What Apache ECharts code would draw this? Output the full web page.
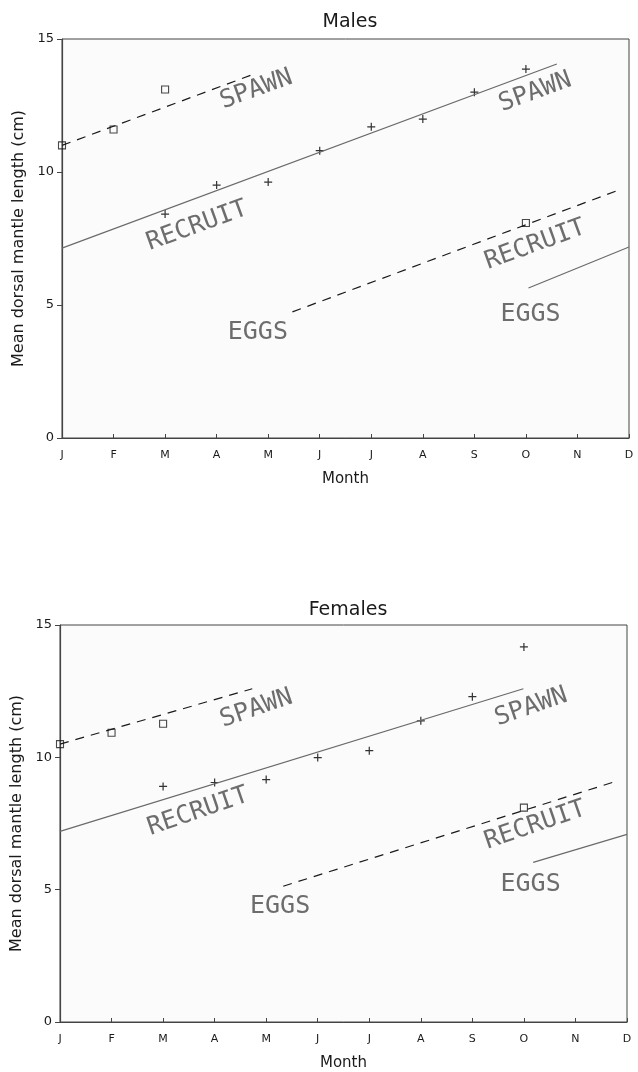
<!DOCTYPE html>
<html>
<head>
<meta charset="utf-8">
<title>Mean dorsal mantle length by month</title>
<script src="https://cdn.jsdelivr.net/npm/echarts@6/dist/echarts.min.js"></script>
<style>
  html, body { margin: 0; padding: 0; background: #fff; }
  #chart { width: 638px; height: 1072px; }
</style>
</head>
<body>
<div id="chart"></div>
<script>
// Month tick labels (x = 0 .. 11)
const monthLabels = ['J', 'F', 'M', 'A', 'M', 'J', 'J', 'A', 'S', 'O', 'N', 'D'];
const yTicks = [0, 5, 10, 15];

// ---- Males ----
// fitted growth lines, [month, cm]
const maleSpawnFit   = [[0, 11.0], [3.75, 13.7]];
const maleRecruitFit = [[0, 7.14], [9.6, 14.06]];
const maleRecruit2Fit = [[4.47, 4.74], [10.8, 9.32]];
const maleEggsFit    = [[9.05, 5.64], [11, 7.18]];
// monthly means
const maleSquares = [[0, 11.0], [1, 11.6], [2, 13.1], [9, 8.08]];
const maleCrosses = [[2, 8.42], [3, 9.51], [4, 9.62], [5, 10.8], [6, 11.7], [7, 11.99], [8, 13.0], [9, 13.87]];

// ---- Females ----
const femSpawnFit   = [[0, 10.5], [3.73, 12.59]];
const femRecruitFit = [[0, 7.2], [8.99, 12.59]];
const femRecruit2Fit = [[4.33, 5.13], [10.83, 9.12]];
const femEggsFit    = [[9.18, 6.03], [11, 7.09]];
const femSquares = [[0, 10.5], [1, 10.93], [2, 11.27], [9, 8.1]];
const femCrosses = [[2, 8.9], [3, 9.05], [4, 9.16], [5, 9.99], [6, 10.25], [7, 11.38], [8, 12.29], [9, 14.17]];

// Stage annotations placed along the fitted lines
const maleNotes = [
  { text: 'SPAWN',   at: [3.77, 13.1], rot: 20 },
  { text: 'SPAWN',   at: [9.18, 13.0], rot: 20 },
  { text: 'RECRUIT', at: [2.62, 7.97], rot: 20 },
  { text: 'RECRUIT', at: [9.18, 7.26], rot: 20 },
  { text: 'EGGS',    at: [3.80, 3.98], rot: 0 },
  { text: 'EGGS',    at: [9.09, 4.66], rot: 0 }
];
const femNotes = [
  { text: 'SPAWN',   at: [3.81, 11.84], rot: 19 },
  { text: 'SPAWN',   at: [9.14, 11.9], rot: 19 },
  { text: 'RECRUIT', at: [2.68, 7.95], rot: 19 },
  { text: 'RECRUIT', at: [9.22, 7.43], rot: 19 },
  { text: 'EGGS',    at: [4.27, 4.37], rot: 0 },
  { text: 'EGGS',    at: [9.13, 5.2], rot: 0 }
];

const ink = '#1a1a1a';
const grayInk = '#6a6a6a';
const axisFont = 'DejaVu Sans';
const stageFont = 'DejaVu Sans Mono';

function xAxisFor(gridIndex) {
  return {
    type: 'value', gridIndex, min: 0, max: 11, interval: 1,
    name: 'Month', nameLocation: 'middle', nameGap: 34,
    nameTextStyle: { fontFamily: axisFont, fontSize: 15, color: ink },
    axisLine: { show: true, lineStyle: { color: '#444', width: 1.2 } },
    axisTick: { show: true, inside: true, length: 4, lineStyle: { color: '#444' } },
    axisLabel: { fontFamily: axisFont, fontSize: 11, color: ink, margin: 12,
                 formatter: v => monthLabels[Math.round(v)] || '' },
    splitLine: { show: false }
  };
}
function yAxisFor(gridIndex) {
  return {
    type: 'value', gridIndex, min: 0, max: 15, interval: 5,
    name: 'Mean dorsal mantle length (cm)', nameLocation: 'middle', nameGap: 32,
    nameTextStyle: { fontFamily: axisFont, fontSize: 16, color: ink },
    axisLine: { show: true, lineStyle: { color: '#444', width: 1.2 } },
    axisTick: { show: true, inside: false, length: 5, lineStyle: { color: '#444' } },
    axisLabel: { fontFamily: axisFont, fontSize: 13, color: ink, margin: 8,
                 formatter: v => (yTicks.indexOf(v) >= 0 ? String(v) : '') },
    splitLine: { show: false }
  };
}

function fitLine(data, idx, dashed, color) {
  return {
    type: 'line', xAxisIndex: idx, yAxisIndex: idx, data,
    symbol: 'none', silent: true, animation: false,
    lineStyle: { color, width: 1.2, type: dashed ? [9, 7] : 'solid' }
  };
}
function squares(data, idx) {
  return {
    type: 'scatter', xAxisIndex: idx, yAxisIndex: idx, data,
    symbol: 'rect', symbolSize: 7, clip: false, animation: false,
    itemStyle: { color: 'rgba(255,255,255,0)', borderColor: ink, borderWidth: 1.1 }
  };
}
function crosses(data, idx) {
  return {
    type: 'scatter', xAxisIndex: idx, yAxisIndex: idx, data,
    symbol: 'path://M0,5L10,5M5,0L5,10', symbolSize: 8, clip: false, animation: false,
    itemStyle: { color: 'rgba(0,0,0,0)', borderColor: '#000', borderWidth: 1.2 }
  };
}
function notes(list, idx) {
  return list.map(n => ({
    type: 'scatter', xAxisIndex: idx, yAxisIndex: idx,
    data: [n.at], symbolSize: 0, silent: true, animation: false,
    label: {
      show: true, position: 'inside', formatter: n.text, rotate: n.rot,
      fontFamily: stageFont, fontSize: 25, color: '#4a4a4a'
    }
  }));
}

const option = {
  backgroundColor: '#ffffff',
  animation: false,
  title: [
    { text: 'Males', left: 345, top: 8, textAlign: 'center',
      textStyle: { fontFamily: axisFont, fontSize: 19, fontWeight: 'normal', color: ink } },
    { text: 'Females', left: 343, top: 596, textAlign: 'center',
      textStyle: { fontFamily: axisFont, fontSize: 19, fontWeight: 'normal', color: ink } }
  ],
  grid: [
    { left: 62, top: 39, width: 567, height: 399, show: true,
      backgroundColor: '#fbfbfb', borderColor: '#444', borderWidth: 1 },
    { left: 60, top: 625, width: 567, height: 398, show: true,
      backgroundColor: '#fbfbfb', borderColor: '#444', borderWidth: 1 }
  ],
  xAxis: [xAxisFor(0), xAxisFor(1)],
  yAxis: [yAxisFor(0), yAxisFor(1)],
  series: [
    fitLine(maleSpawnFit, 0, true, ink),
    fitLine(maleRecruitFit, 0, false, grayInk),
    fitLine(maleRecruit2Fit, 0, true, ink),
    fitLine(maleEggsFit, 0, false, grayInk),
    squares(maleSquares, 0),
    crosses(maleCrosses, 0),
    ...notes(maleNotes, 0),

    fitLine(femSpawnFit, 1, true, ink),
    fitLine(femRecruitFit, 1, false, grayInk),
    fitLine(femRecruit2Fit, 1, true, ink),
    fitLine(femEggsFit, 1, false, grayInk),
    squares(femSquares, 1),
    crosses(femCrosses, 1),
    ...notes(femNotes, 1)
  ]
};

const chart = echarts.init(document.getElementById('chart'), null, { renderer: 'canvas' });
chart.setOption(option);
</script>
</body>
</html>
